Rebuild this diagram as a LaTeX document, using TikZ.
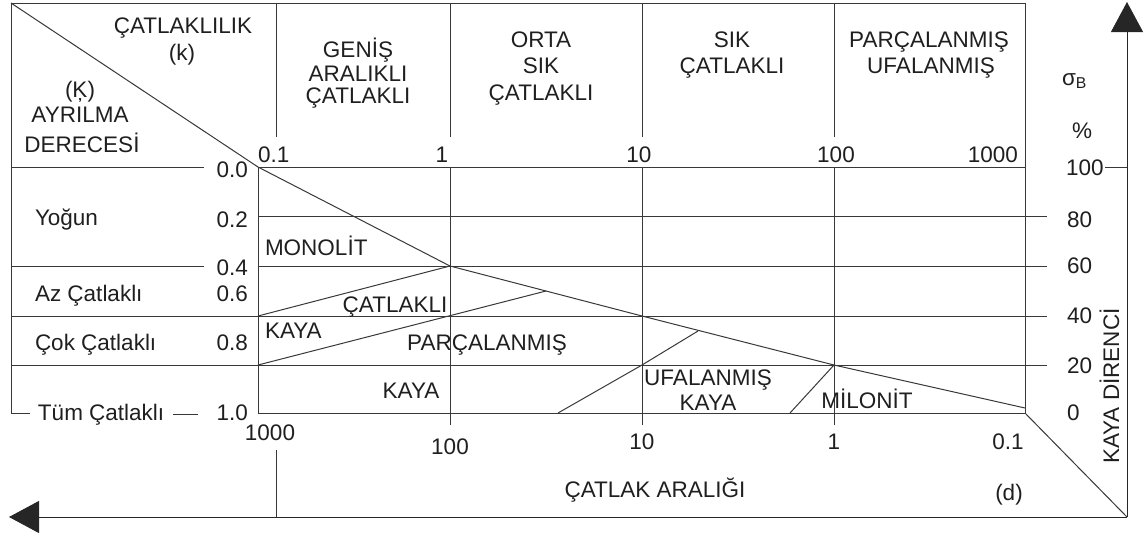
\documentclass[tikz,border=0pt]{standalone}
\usepackage{fontspec}
\setmainfont{Liberation Sans}
\usetikzlibrary{arrows.meta}
\begin{document}
\begin{tikzpicture}[x=0.5pt,y=-0.5pt,line width=0.5pt,
  ln/.style={draw=black!78},
  axisarrow/.style={draw=black!85,-{Triangle[length=15pt,width=16pt]}},
  lbl/.style={inner sep=0pt,outer sep=0pt,font=\fontsize{11.25}{13.5}\selectfont,text=black!88,anchor=base},
  lblL/.style={lbl,anchor=base west},
  lblR/.style={lbl,anchor=base east}]
\useasboundingbox (0,0) rectangle (1148,538);

% grid coordinates
\foreach \i/\x in {0/258,1/450,2/642,3/834,4/1025}
  \foreach \j/\y in {0/167,1/216,2/266,3/316,4/365,5/413}
    \coordinate (p\i\j) at (\x,\y);
\coordinate (tl) at (11,3);
\coordinate (tr) at (1025,3);
\coordinate (bl) at (11,413);
\coordinate (blend) at (30,413);
\coordinate (ax) at (1127,517);
\coordinate (axtop) at (1127,2);
\coordinate (axleft) at (9,517);

% frame
\draw[ln] (bl) -- (tl) -- (tr) -- (p45);
\draw[ln] (bl) -- (blend);
\draw[ln] (173,414) -- (198,414);

% header verticals
\foreach \x in {276,450,642,834} \draw[ln] (\x,3) -- (\x,137);

% left column lines
\draw[ln] (11,167) -- (204,167);
\draw[ln] (11,266) -- (204,266);
\draw[ln] (11,316) -- (p03);
\draw[ln] (11,365) -- (p04);

% grid horizontals
\draw[ln] (p00) -- (p40);
\draw[ln] (p01) -- (1047,216);
\draw[ln] (p02) -- (1047,266);
\draw[ln] (p03) -- (1047,316);
\draw[ln] (p04) -- (1047,365);
\draw[ln] (p05) -- (p45);
\draw[ln] (1105,167) -- (1127,167);

% grid verticals
\draw[ln] (p00) -- (p05);
\draw[ln] (p10) -- (450,425);
\draw[ln] (p20) -- (642,425);
\draw[ln] (p30) -- (834,425);

% diagonals
\coordinate (dend) at (1025,408);
\coordinate (m1) at (546,291);
\coordinate (m2) at (698,331);
\coordinate (b1) at (558,413);
\coordinate (b2) at (790,413);
\draw[ln] (tl) -- (p00) -- (p12) -- (p23) -- (p34) -- (dend);
\draw[ln] (p03) -- (p12);
\draw[ln] (p04) -- (m1);
\draw[ln] (b1) -- (p24) -- (m2);
\draw[ln] (b2) -- (p34);

% bottom
\draw[ln] (276,450) -- (276,517);
\draw[ln] (p45) -- (ax);
\draw[axisarrow] (ax) -- (axtop);
\draw[axisarrow] (ax) -- (axleft);

% header texts
\node[lbl] (catl) at (183,33) {ÇATLAKLILIK};
\node[lbl] (k) at (182,60) {(k)};
\node[lbl] (kc) at (80,97) {(Ķ)};
\node[lbl] (ayr) at (80,122) {AYRILMA};
\node[lbl] (der) at (82,152) {DERECESİ};

\node[lbl] (g1) at (358,57) {GENİŞ};
\node[lbl] (g2) at (358,81) {ARALIKLI};
\node[lbl] (g3) at (358,103) {ÇATLAKLI};
\node[lbl] (o1) at (541,47) {ORTA};
\node[lbl] (o2) at (541,73) {SIK};
\node[lbl] (o3) at (541,100) {ÇATLAKLI};
\node[lbl] (s1) at (732,47) {SIK};
\node[lbl] (s2) at (732,73) {ÇATLAKLI};
\node[lbl] (u1) at (929,47) {PARÇALANMIŞ};
\node[lbl] (u2) at (931,73) {UFALANMIŞ};

% top scale
\node[lblL] (t01) at (258,162) {0.1};
\node[lbl] (t1) at (442,162) {1};
\node[lbl] (t10) at (639,162) {10};
\node[lbl] (t100) at (836,162) {100};
\node[lblR] (t1000) at (1018,162) {1000};

% left scale
\node[lblR] (l00) at (248,177) {0.0};
\node[lblR] (l02) at (248,227) {0.2};
\node[lblR] (l04) at (248,275) {0.4};
\node[lblR] (l06) at (248,301) {0.6};
\node[lblR] (l08) at (248,350) {0.8};
\node[lblR] (l10) at (248,420) {1.0};
\node[lblL] (yog) at (35,225) {Yoğun};
\node[lblL] (az) at (35,301) {Az Çatlaklı};
\node[lblL] (cok) at (35,350) {Çok Çatlaklı};
\node[lblL] (tum) at (38,420) {Tüm Çatlaklı};

% inner labels
\node[lblL] (mono) at (265,255) {MONOLİT};
\node[lbl] (catk) at (395,312) {ÇATLAKLI};
\node[lblL] (kaya1) at (265,338) {KAYA};
\node[lbl] (parc) at (487,350) {PARÇALANMIŞ};
\node[lbl] (kaya2) at (411,398) {KAYA};
\node[lbl] (ufa) at (708,385) {UFALANMIŞ};
\node[lbl] (kaya3) at (708,410) {KAYA};
\node[lbl] (milo) at (867,408) {MİLONİT};

% bottom scale
\node[lbl] (b1000) at (270,440) {1000};
\node[lbl] (b100) at (450,454) {100};
\node[lbl] (b10) at (642,449) {10};
\node[lbl] (b1) at (834,449) {1};
\node[lbl] (b01) at (1008,449) {0.1};
\node[lbl] (aral) at (655,497) {ÇATLAK ARALIĞI};
\node[lbl] (d) at (1009,500) {(d)};

% right scale
\node[lblL] (sig) at (1062,85) {σ\textsubscript{B}};
\node[lbl] (pct) at (1082,138) {\%};
\node[lblL] (r100) at (1066,175) {100};
\node[lblL] (r80) at (1067,227) {80};
\node[lblL] (r60) at (1067,273) {60};
\node[lblL] (r40) at (1067,323) {40};
\node[lblL] (r20) at (1067,373) {20};
\node[lblL] (r0) at (1067,420) {0};
\node[lbl,rotate=90] (kd) at (1119,386) {KAYA DİRENCİ};
\end{tikzpicture}
\end{document}
